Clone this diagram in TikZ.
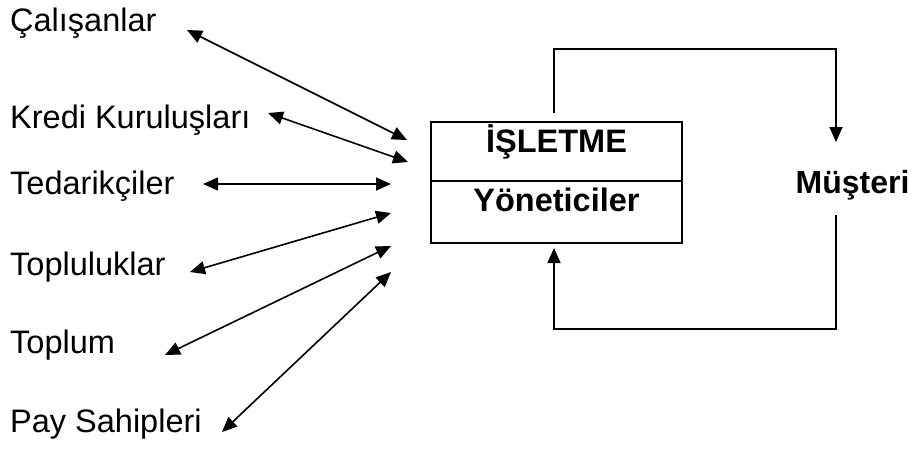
\documentclass[tikz,border=0pt]{standalone}
\usepackage{fontspec}
\setmainfont{Liberation Sans}
\usepackage{tikz}
\usetikzlibrary{arrows.meta, positioning, calc}

\begin{document}
\begin{tikzpicture}[x=1pt, y=-1pt,
  party/.style={inner sep=0pt, anchor=base west, font=\fontsize{32.5}{38}\selectfont},
  cell/.style={rectangle, draw, line width=2pt, outer sep=0pt, minimum width=251pt, inner sep=0pt, text height=22pt, align=center, font=\fontsize{32.5}{38}\selectfont\bfseries},
  cust/.style={inner sep=0pt, anchor=base, font=\fontsize{32}{38}\selectfont\bfseries},
  arr/.style={{Triangle[length=15pt, width=13pt]}-{Triangle[length=15pt, width=13pt]}, line width=1.6pt},
  flow/.style={-{Triangle[length=15pt, width=13pt]}, line width=1.6pt}
]
\useasboundingbox (0,0) rectangle (912,450);
% stakeholders
\node[party] (cal) at (10,31) {Çalışanlar};
\node[party] (kre) at (10,128) {Kredi Kuruluşları};
\node[party] (ted) at (10,194) {Tedarikçiler};
\node[party] (top) at (10,275) {Topluluklar};
\node[party] (tpl) at (10,353) {Toplum};
\node[party] (pay) at (10,432) {Pay Sahipleri};
% firm box
\node[cell, minimum height=59pt, text depth=21pt] (isl) at (556.5,151.5) {İŞLETME};
\node[cell, minimum height=62pt, text depth=23pt, below=0pt of isl] (yon) {Yöneticiler};
\node[cust] (mus) at (852.5,193) {Müşteri};
% arrow ends
\coordinate (calA) at (187,30);  \coordinate (calB) at (407,140);
\coordinate (kreA) at (268,113); \coordinate (kreB) at (408,162);
\coordinate (tedA) at (203,184); \coordinate (tedB) at (391,184);
\coordinate (topA) at (190,272); \coordinate (topB) at (391,213);
\coordinate (tplA) at (165,355); \coordinate (tplB) at (391,246);
\coordinate (payA) at (222,432); \coordinate (payB) at (391,272);
\draw[arr] (calA) -- (calB);
\draw[arr] (kreA) -- (kreB);
\draw[arr] (tedA) -- (tedB);
\draw[arr] (topA) -- (topB);
\draw[arr] (tplA) -- (tplB);
\draw[arr] (payA) -- (payB);
% customer loop
\coordinate (out) at (554,113);
\coordinate (inn) at (554,248);
\coordinate (musT) at (836,142);
\coordinate (musB) at (836,215);
\draw[flow] (out) |- (836,49) -- (musT);
\draw[flow] (musB) |- (554,329) -- (inn);
\end{tikzpicture}
\end{document}
